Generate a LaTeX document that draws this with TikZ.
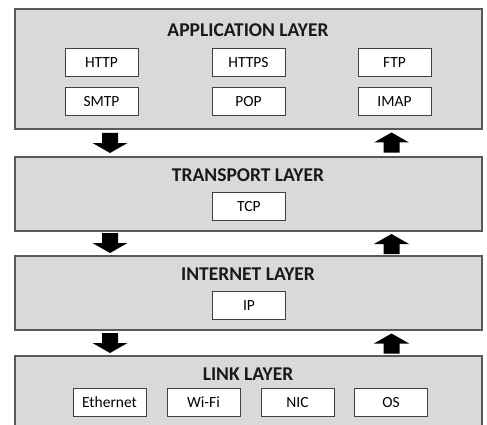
\documentclass[tikz,border=0pt]{standalone}
\usepackage{fontspec}
\setmainfont{Carlito}
\usetikzlibrary{calc}
\definecolor{layerfill}{HTML}{D9D9D9}
\definecolor{layerdraw}{HTML}{595959}
\definecolor{protodraw}{HTML}{404040}
\newcommand\dnarrow[2]{\fill[bigarrow] (#1-8,#2) -- (#1+8,#2) -- (#1+8,#2+10) -- (#1+17.5,#2+10) -- (#1,#2+20) -- (#1-17.5,#2+10) -- (#1-8,#2+10) -- cycle;}
\newcommand\uparrowshape[2]{\fill[bigarrow] (#1,#2) -- (#1+17.5,#2+10) -- (#1+8,#2+10) -- (#1+8,#2+20) -- (#1-8,#2+20) -- (#1-8,#2+10) -- (#1-17.5,#2+10) -- cycle;}
\begin{document}
\begin{tikzpicture}[x=1pt,y=-1pt,
  layerbox/.style={draw=layerdraw, fill=layerfill, line width=1.2pt, minimum width=467pt, inner sep=0pt},
  protobox/.style={draw=protodraw, fill=white, line width=1pt, minimum width=73pt, minimum height=28pt, inner sep=0pt, font=\fontsize{15.5}{15.5}\selectfont, text=black},
  layertitle/.style={font=\bfseries\fontsize{19.5}{20}\selectfont, text=black!90, inner sep=0pt},
  bigarrow/.style={fill=black}]
\useasboundingbox (0,0) rectangle (487,425);
\clip (0,0) rectangle (487,425);
% layers
\node[layerbox, minimum height=120pt] (app) at (248.5,69) {};
\node[layerbox, minimum height=74pt] (trans) at (248.5,194) {};
\node[layerbox, minimum height=74pt] (inet) at (248.5,293) {};
\node[layerbox, minimum height=84pt] (link) at (248.5,398) {};
% titles
\node[layertitle] (appt) at (248,30) {APPLICATION LAYER};
\node[layertitle] (transt) at (248,175) {TRANSPORT LAYER};
\node[layertitle] (inett) at (248,274.5) {INTERNET LAYER};
\node[layertitle] (linkt) at (248,374.5) {LINK LAYER};
% protocols
\node[protobox] (http) at (101.5,63) {HTTP};
\node[protobox] (https) at (248.5,63) {HTTPS};
\node[protobox] (ftp) at (394.5,63) {FTP};
\node[protobox] (smtp) at (101.5,102) {SMTP};
\node[protobox] (pop) at (248.5,102) {POP};
\node[protobox] (imap) at (394.5,102) {IMAP};
\node[protobox] (tcp) at (249,206.5) {TCP};
\node[protobox] (ip) at (249,305.5) {IP};
\node[protobox] (eth) at (109.5,402.5) {Ethernet};
\node[protobox] (wifi) at (203.5,402.5) {Wi-Fi};
\node[protobox] (nic) at (297.5,402.5) {NIC};
\node[protobox] (os) at (391,402.5) {OS};
% arrows
\dnarrow{110}{133}
\uparrowshape{391.5}{132.5}
\dnarrow{110}{233}
\uparrowshape{391.5}{234}
\dnarrow{110}{333}
\uparrowshape{391.5}{333.5}
\end{tikzpicture}
\end{document}
